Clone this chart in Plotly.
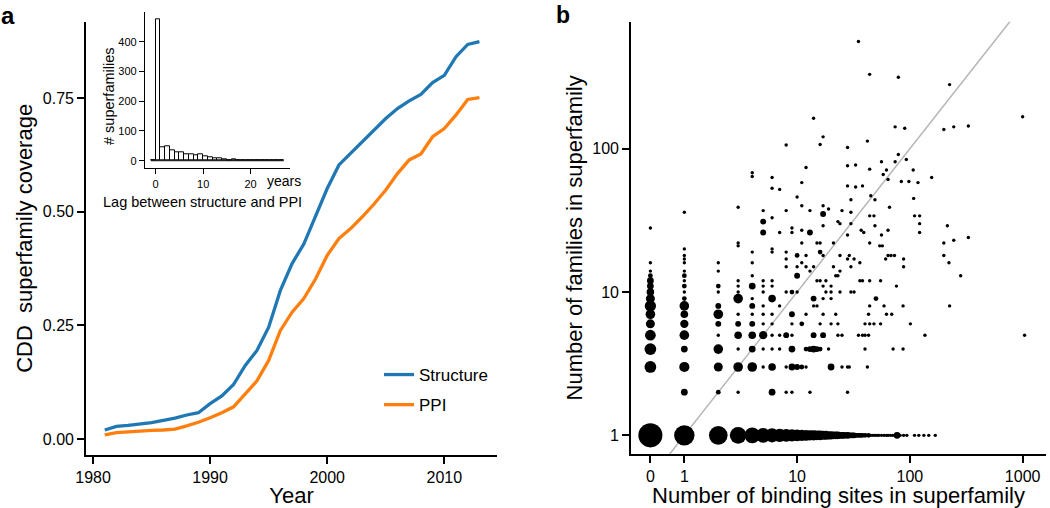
import numpy as np
import plotly.graph_objects as go

W, H = 1050, 508
FONT = "Liberation Sans, Arial, Helvetica, sans-serif"

# ---------------- panel a: coverage over time ----------------
years = [1981, 1982, 1983, 1984, 1985, 1986, 1987, 1988, 1989, 1990,
         1991, 1992, 1993, 1994, 1995, 1996, 1997, 1998, 1999, 2000,
         2001, 2002, 2003, 2004, 2005, 2006, 2007, 2008, 2009, 2010,
         2011, 2012, 2013]
structure_cov = [0.020, 0.028, 0.030, 0.033, 0.036, 0.041, 0.046, 0.053, 0.058, 0.078,
                 0.095, 0.120, 0.162, 0.195, 0.246, 0.327, 0.386, 0.429, 0.489, 0.551,
                 0.603, 0.628, 0.654, 0.680, 0.705, 0.727, 0.744, 0.758, 0.784, 0.800,
                 0.841, 0.868, 0.874]
ppi_cov = [0.009, 0.014, 0.016, 0.018, 0.019, 0.020, 0.022, 0.029, 0.037, 0.047,
           0.058, 0.071, 0.099, 0.128, 0.173, 0.239, 0.279, 0.309, 0.352, 0.404,
           0.441, 0.463, 0.489, 0.517, 0.548, 0.584, 0.614, 0.627, 0.665, 0.683,
           0.713, 0.747, 0.751]
year_ticks = [1980, 1990, 2000, 2010]
cov_ticks = [0.00, 0.25, 0.50, 0.75]

# inset histogram: lag (years) between structure and PPI
lag_bins = [-1, 0, 1, 2, 3, 4, 5, 6, 7, 8, 9, 10, 11, 12, 13,
            14, 15, 16, 17, 18, 19, 20, 21, 22, 23, 24, 25, 26]
lag_counts = [0, 476, 45, 47, 35, 29, 28, 22, 20, 17, 21, 16, 13, 8, 9,
              4, 3, 6, 2, 1, 1, 1, 1, 1, 1, 1, 1, 1]
lag_xticks = [0, 10, 20]
lag_yticks = [0, 100, 200, 300, 400]

# ---------------- panel b: binding sites vs families ----------------
sites = [
    # families = 1
    0, 1, 2, 3, 4, 5, 6, 7, 8, 9, 10, 11, 12, 13, 14, 15, 16, 17, 18, 19,
    20, 21, 22, 23, 24, 25, 26, 27, 28, 29, 30, 31, 32, 33, 34, 35, 36, 37, 38, 40,
    41, 43, 45, 47, 49, 51, 53, 56, 59, 62, 64, 67, 70, 73, 77, 82, 88, 94, 110, 120,
    133, 147, 168,
    # families = 2
    1, 2, 3, 6, 8, 9, 13, 28,
    # families = 3
    0, 1, 2, 3, 4, 5, 6, 8, 9, 10, 11, 12, 20, 25, 28, 29, 42,
    # families = 4
    0, 1, 2, 3, 4, 5, 6, 7, 9, 12, 13, 14, 15, 16, 19, 40, 71, 87,
    # families = 5
    0, 1, 2, 3, 4, 5, 6, 7, 8, 9, 14, 17, 23, 25, 35, 38, 40, 43, 136, 1040,
    # families = 6
    0, 1, 2, 3, 4, 5, 6, 9, 11, 16, 20, 23, 40, 44, 48, 55, 101,
    # families = 7
    0, 1, 2, 3, 4, 5, 6, 9, 12, 17, 22, 43, 62, 69,
    # families = 8
    0, 1, 2, 4, 5, 7, 14, 15, 44, 59, 87, 225,
    # families = 9
    0, 1, 3, 4, 6, 14, 17, 20, 50,
    # families = 10
    0, 1, 2, 3, 5, 8, 9, 10, 18, 20, 24, 30, 32,
    # families = 11
    0, 1, 2, 3, 4, 5, 6, 17, 20, 76,
    # families = 12
    0, 1, 3, 5, 6, 15, 16, 18, 36, 38, 44, 55,
    # families = 13
    0, 1, 4, 10, 22, 23, 282,
    # families = 14
    0, 1, 2, 13, 24,
    # families = 15
    8, 10, 12, 14, 21, 30, 88,
    # families = 16
    0, 1, 2, 4, 11, 36, 222,
    # families = 17
    1, 8, 28, 32, 61, 88,
    # families = 18
    1, 10, 12, 17, 24, 29, 64, 68, 73, 200,
    # families = 19
    4, 6, 8, 16,
    # families = 20 .. 31
    1, 6,
    3, 54, 57,
    3, 11, 15, 16, 21, 44, 200,
    245,
    330,
    28, 56,
    5, 7, 9, 13, 39, 122,
    11, 37, 64,
    0, 9,
    17, 49, 215,
    24, 30, 122,
    5, 23,
    # families = 33 .. 560
    6,
    44, 48, 110, 122,
    17,
    1, 30,
    5, 8, 13, 25,
    19,
    3, 66,
    11, 17,
    30, 49,
    108, 10, 45, 7, 6, 33,
    28, 38,
    11, 118,
    84, 98,
    64,
    6, 156,
    4, 58, 4,
    62, 107,
    44, 12, 28, 33,
    56, 74,
    93, 79, 28, 8, 16, 42, 17, 200, 90,
    74, 245,
    330, 14, 1000, 225, 79, 44, 35,
]
families = [
    # 1
    1, 1, 1, 1, 1, 1, 1, 1, 1, 1, 1, 1, 1, 1, 1, 1, 1, 1, 1, 1,
    1, 1, 1, 1, 1, 1, 1, 1, 1, 1, 1, 1, 1, 1, 1, 1, 1, 1, 1, 1,
    1, 1, 1, 1, 1, 1, 1, 1, 1, 1, 1, 1, 1, 1, 1, 1, 1, 1, 1, 1,
    1, 1, 1,
    # 2
    2, 2, 2, 2, 2, 2, 2, 2,
    # 3
    3, 3, 3, 3, 3, 3, 3, 3, 3, 3, 3, 3, 3, 3, 3, 3, 3,
    # 4
    4, 4, 4, 4, 4, 4, 4, 4, 4, 4, 4, 4, 4, 4, 4, 4, 4, 4,
    # 5
    5, 5, 5, 5, 5, 5, 5, 5, 5, 5, 5, 5, 5, 5, 5, 5, 5, 5, 5, 5,
    # 6
    6, 6, 6, 6, 6, 6, 6, 6, 6, 6, 6, 6, 6, 6, 6, 6, 6,
    # 7
    7, 7, 7, 7, 7, 7, 7, 7, 7, 7, 7, 7, 7, 7,
    # 8
    8, 8, 8, 8, 8, 8, 8, 8, 8, 8, 8, 8,
    # 9
    9, 9, 9, 9, 9, 9, 9, 9, 9,
    # 10
    10, 10, 10, 10, 10, 10, 10, 10, 10, 10, 10, 10, 10,
    # 11
    11, 11, 11, 11, 11, 11, 11, 11, 11, 11,
    # 12
    12, 12, 12, 12, 12, 12, 12, 12, 12, 12, 12, 12,
    # 13
    13, 13, 13, 13, 13, 13, 13,
    # 14
    14, 14, 14, 14, 14,
    # 15
    15, 15, 15, 15, 15, 15, 15,
    # 16
    16, 16, 16, 16, 16, 16, 16,
    # 17
    17, 17, 17, 17, 17, 17,
    # 18
    18, 18, 18, 18, 18, 18, 18, 18, 18, 18,
    # 19
    19, 19, 19, 19,
    # 20 .. 31
    20, 20,
    21, 21, 21,
    22, 22, 22, 22, 22, 22, 22,
    23,
    24,
    25, 25,
    26, 26, 26, 26, 26, 26,
    27, 27, 27,
    28, 28,
    29, 29, 29,
    30, 30, 30,
    31, 31,
    # 33 .. 560
    33,
    34, 34, 34, 34,
    35,
    36, 36,
    37, 37, 37, 37,
    38,
    39, 39,
    40, 40,
    44, 44,
    45, 46, 47, 52, 53, 54,
    55, 55,
    58, 58,
    59, 59,
    61,
    63, 63,
    64, 66, 68,
    71, 71,
    72, 74, 76, 77,
    81, 81,
    84, 91, 102, 106, 107, 113, 121, 136, 139,
    142, 142,
    144, 163, 167, 280, 315, 330, 560,
]
n_superfamilies = [
    # 1
    50, 36, 30, 24, 21, 19, 17, 15, 14, 13, 12, 11, 10, 9, 9, 8, 8, 7, 7, 6,
    6, 5, 5, 5, 4, 4, 4, 3, 4, 3, 3, 3, 3, 2, 2, 2, 2, 2, 2, 2,
    1, 2, 1, 1, 1, 1, 1, 1, 1, 1, 1, 1, 1, 1, 4, 1, 1, 1, 1, 1,
    1, 1, 1,
    # 2
    4, 2, 1, 4, 1, 1, 1, 1,
    # 3
    12, 9, 7, 8, 8, 1, 5, 1, 4, 3, 2, 1, 4, 1, 1, 1, 1,
    # 4
    12, 4, 8, 1, 4, 1, 1, 1, 4, 2, 3, 4, 3, 2, 1, 1, 1, 1,
    # 5
    10, 8, 1, 5, 5, 6, 1, 1, 3, 1, 3, 3, 1, 1, 1, 1, 1, 1, 1, 1,
    # 6
    7, 6, 3, 3, 3, 1, 1, 1, 2, 1, 1, 1, 1, 1, 1, 1, 1,
    # 7
    8, 5, 8, 1, 1, 1, 1, 3, 1, 1, 1, 1, 1, 1,
    # 8
    11, 8, 3, 3, 1, 1, 1, 1, 1, 1, 1, 1,
    # 9
    7, 2, 8, 1, 5, 3, 1, 1, 2,
    # 10
    5, 1, 1, 1, 1, 1, 2, 1, 1, 1, 1, 1, 1,
    # 11
    4, 2, 2, 1, 4, 1, 1, 1, 1, 1,
    # 12
    4, 1, 1, 1, 1, 1, 1, 1, 1, 1, 1, 1,
    # 13
    2, 2, 1, 3, 1, 1, 1,
    # 14
    1, 1, 1, 1, 1,
    # 15
    1, 1, 1, 1, 1, 1, 1,
    # 16
    1, 1, 1, 1, 1, 1, 1,
    # 17
    1, 1, 1, 1, 1, 1,
    # 18
    1, 2, 1, 1, 1, 1, 1, 1, 1, 1,
    # 19
    1, 1, 1, 2,
    # 20 .. 31
    1, 1,
    1, 1, 1,
    1, 1, 1, 1, 1, 1, 1,
    1,
    1,
    1, 1,
    3, 1, 1, 3, 1, 1,
    1, 1, 1,
    1, 1,
    1, 1, 1,
    1, 1, 1,
    3, 1,
    # 33 .. 560
    1,
    1, 1, 1, 1,
    3,
    1, 1,
    1, 1, 1, 1,
    1,
    1, 1,
    1, 1,
    1, 1,
    1, 1, 1, 1, 1, 1,
    1, 1,
    1, 1,
    1, 1,
    1,
    1, 1,
    1, 1, 1,
    1, 1,
    1, 1, 1, 1,
    1, 1,
    1, 1, 1, 1, 1, 1, 1, 1, 1,
    1, 1,
    1, 1, 1, 1, 1, 1, 1,
]
assert len(sites) == len(families) == len(n_superfamilies), (len(sites), len(families), len(n_superfamilies))

site_tickvals = [0.5, 1, 10, 100, 1000]   # zero plotted at 0.5 on the log axis
site_ticktext = ["0", "1", "10", "100", "1000"]
fam_ticks = [1, 10, 100]

# ---------------- layout geometry (pixels) ----------------
def fx(p):
    return p / W

def fy(p):
    return 1 - p / H

BLUE = "#1F78B4"
ORANGE = "#FF7F0E"

fig = go.Figure()

# panel a lines
fig.add_trace(go.Scatter(x=years, y=structure_cov, mode="lines", name="Structure",
                         line=dict(color=BLUE, width=3.3), xaxis="x", yaxis="y",
                         legendgroup="s"))
fig.add_trace(go.Scatter(x=years, y=ppi_cov, mode="lines", name="PPI",
                         line=dict(color=ORANGE, width=3.3), xaxis="x", yaxis="y",
                         legendgroup="p"))

# inset histogram
lag_left = np.array(lag_bins, dtype=float)
fig.add_trace(go.Bar(x=lag_left + 0.5, y=lag_counts, width=1.0,
                     marker=dict(color="white", line=dict(color="black", width=1)),
                     xaxis="x3", yaxis="y3", showlegend=False))
fig.add_trace(go.Scatter(x=[lag_left.min(), lag_left.max() + 1], y=[0, 0], mode="lines",
                         line=dict(color="black", width=1), xaxis="x3", yaxis="y3",
                         showlegend=False))

# panel b
xr = [-0.473, 3.207]
yr = [-0.13, 2.886]
diag = np.array([10 ** xr[0], 10 ** xr[1]])
fig.add_trace(go.Scatter(x=diag, y=diag, mode="lines", line=dict(color="#b5b5b5", width=1.5),
                         xaxis="x2", yaxis="y2", showlegend=False))
s = np.array(sites, dtype=float)
s_plot = np.where(s == 0, 0.5, s)
n = np.array(n_superfamilies, dtype=float)
fig.add_trace(go.Scatter(x=s_plot, y=families, mode="markers",
                         marker=dict(color="black", size=3.4 * np.sqrt(n), opacity=1,
                                     line=dict(width=0)),
                         xaxis="x2", yaxis="y2", showlegend=False))

axis_common = dict(showline=True, linecolor="black", linewidth=1.7, ticks="outside",
                   ticklen=7, tickwidth=1.5, tickcolor="black", showgrid=False,
                   zeroline=False, automargin=False,
                   tickfont=dict(family=FONT, size=16, color="black"))
inset_axis = dict(showline=True, linecolor="black", linewidth=1.3, ticks="outside",
                  ticklen=5, tickwidth=1.1, tickcolor="black", showgrid=False,
                  zeroline=False, automargin=False,
                  tickfont=dict(family=FONT, size=11, color="black"))

fig.update_layout(
    width=W, height=H,
    margin=dict(l=0, r=0, t=0, b=0, autoexpand=False),
    paper_bgcolor="white", plot_bgcolor="rgba(0,0,0,0)",
    font=dict(family=FONT, color="black"),
    showlegend=True,
    legend=dict(x=fx(379), y=fy(357), xanchor="left", yanchor="top",
                bgcolor="rgba(0,0,0,0)", font=dict(family=FONT, size=17, color="black"),
                tracegroupgap=5),
    xaxis=dict(domain=[fx(86), fx(497)], anchor="y", range=[1979.4, 2014.5],
               tickvals=year_ticks,
               title=dict(text="Year", font=dict(size=22), standoff=2), **axis_common),
    yaxis=dict(domain=[fy(455), fy(21.7)], anchor="x", range=[-0.035, 0.918],
               tickvals=cov_ticks, tickformat=".2f",
               title=dict(text="CDD\u00a0 superfamily coverage", font=dict(size=22), standoff=4),
               **axis_common),
    xaxis2=dict(domain=[fx(631), fx(1046)], anchor="y2", type="log", range=xr,
                tickvals=site_tickvals, ticktext=site_ticktext,
                title=dict(text="Number of binding sites in superfamily", font=dict(size=22),
                           standoff=3), **axis_common),
    yaxis2=dict(domain=[fy(454), fy(21.7)], anchor="x2", type="log", range=yr,
                tickvals=fam_ticks, ticktext=[str(v) for v in fam_ticks],
                title=dict(text="Number of families in superfamily", font=dict(size=22),
                           standoff=4), **axis_common),
    xaxis3=dict(domain=[fx(145), fx(290)], anchor="y3", range=[-2.25, 28.3],
                tickvals=lag_xticks, **inset_axis),
    yaxis3=dict(domain=[fy(168.3), fy(12.3)], anchor="x3", range=[-25.5, 499],
                tickvals=lag_yticks, **inset_axis),
    bargap=0,
)

annotations = [
    dict(text="<b>a</b>", x=fx(8), y=1, xref="paper", yref="paper",
         showarrow=False, font=dict(size=24), xanchor="center", yanchor="top"),
    dict(text="<b>b</b>", x=fx(563), y=1, xref="paper", yref="paper",
         showarrow=False, font=dict(size=23), xanchor="center", yanchor="top"),
    dict(text="years", x=fx(265), y=fy(181), xref="paper", yref="paper",
         showarrow=False, font=dict(size=14), xanchor="left", yanchor="middle"),
    dict(text="Lag between structure and PPI", x=fx(202), y=fy(202), xref="paper",
         yref="paper", showarrow=False, font=dict(size=14.5), xanchor="center",
         yanchor="middle"),
    dict(text="# superfamilies", x=fx(109), y=fy(96), xref="paper", yref="paper",
         showarrow=False, font=dict(size=14.5), textangle=-90, xanchor="center",
         yanchor="middle"),
]
fig.update_layout(annotations=annotations)

# remove the browser's default 8px page margin so the figure fills the window exactly
fig.write_html("out.html",
               config={"displayModeBar": False},
               post_script="document.body.style.margin='0';document.body.style.overflow='hidden';")
